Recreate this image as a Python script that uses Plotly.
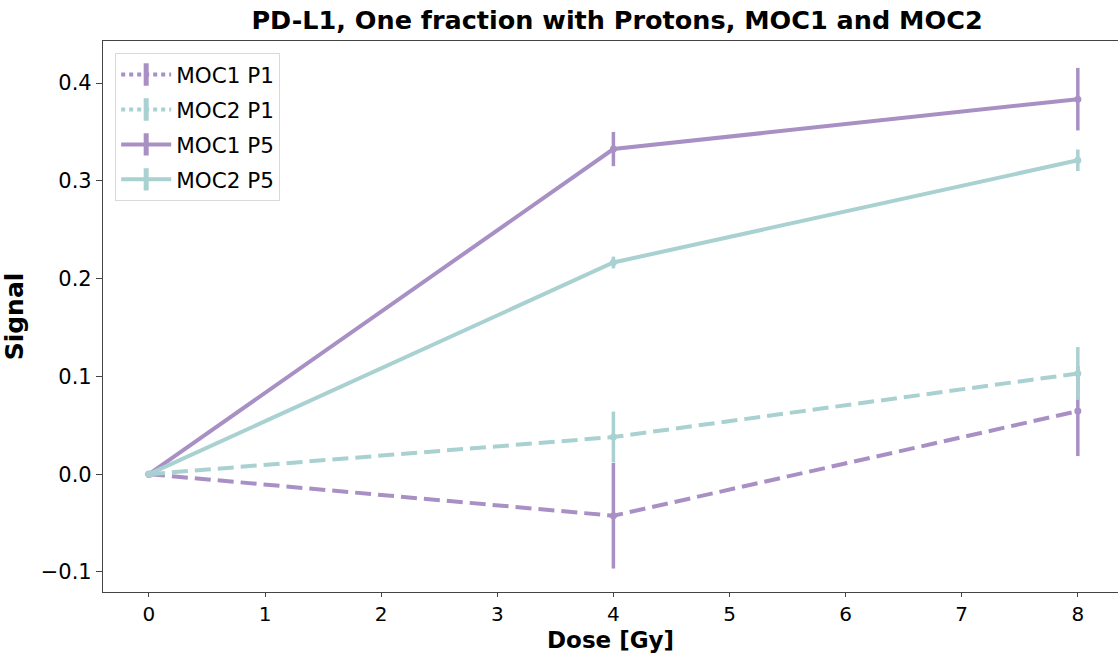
import plotly.graph_objects as go

# Dose levels (Gy)
dose = [0, 4, 8]

# Mean signal and standard error per condition
moc1_p1 = [0.0, -0.0425, 0.0645]
moc1_p1_err = [0.0, 0.054, 0.046]
moc2_p1 = [0.0, 0.038, 0.103]
moc2_p1_err = [0.0, 0.026, 0.027]
moc1_p5 = [0.0, 0.3325, 0.3835]
moc1_p5_err = [0.0, 0.0175, 0.032]
moc2_p5 = [0.0, 0.2165, 0.321]
moc2_p5_err = [0.0, 0.006, 0.011]

series_names = ["MOC1 P1", "MOC2 P1", "MOC1 P5", "MOC2 P5"]
series_vals = [moc1_p1, moc2_p1, moc1_p5, moc2_p5]
series_errs = [moc1_p1_err, moc2_p1_err, moc1_p5_err, moc2_p5_err]

PURPLE = "#a890c5"
TEAL = "#a9d1d1"
colors = [PURPLE, TEAL, PURPLE, TEAL]
dashes = ["16px,7px", "16px,7px", "solid", "solid"]
legend_dashes = ["dot", "dot", "solid", "solid"]

FONT = "DejaVu Sans"

fig = go.Figure()

for name, y, err, c, d in zip(series_names, series_vals, series_errs, colors, dashes):
    fig.add_trace(go.Scatter(
        x=dose, y=y, mode="lines+markers", name=name, showlegend=False,
        line=dict(color=c, width=4, dash=d),
        marker=dict(color=c, size=7),
        error_y=dict(type="data", array=err, visible=True, color=c,
                     thickness=3.5, width=0),
    ))

# Legend entries: line sample with a vertical error-bar glyph
for name, c, d in zip(series_names, colors, legend_dashes):
    fig.add_trace(go.Scatter(
        x=[None], y=[None], mode="lines+markers", name=name,
        legendgroup=name,
        line=dict(color=c, width=4, dash=d),
        marker=dict(symbol="line-ns", size=20, color=c,
                    line=dict(color=c, width=5)),
    ))

PLOT_H = 655 - 41 - 63

fig.update_layout(
    width=1118, height=655,
    margin=dict(l=103, r=0, t=41, b=63),
    paper_bgcolor="white", plot_bgcolor="white",
    font=dict(family=FONT, size=21, color="black"),
    title=dict(text="<b>PD-L1, One fraction with Protons, MOC1 and MOC2</b>",
               x=617 / 1118, xref="container", xanchor="center",
               y=1 - 20 / 655, yanchor="middle",
               font=dict(family=FONT, size=25.5, color="black")),
    legend=dict(x=0.012, y=1 - 12 / PLOT_H, xanchor="left", yanchor="top",
                bgcolor="rgba(255,255,255,0.8)", bordercolor="#d9d9d9",
                borderwidth=1, font=dict(family=FONT, size=21.5),
                itemwidth=50, traceorder="grouped", tracegroupgap=4),
    showlegend=True,
)

# x-axis title placed just below the tick labels
fig.add_annotation(
    text="<b>Dose [Gy]</b>", xref="paper", yref="paper",
    x=0.5, y=-(640 - 592) / PLOT_H, xanchor="center", yanchor="middle",
    showarrow=False, font=dict(family=FONT, size=23, color="black"),
)

fig.update_xaxes(
    range=[-0.396, 8.346], tickmode="array", tickvals=list(range(0, 9)),
    showgrid=False, zeroline=False, showline=True, linecolor="#444",
    linewidth=1.2, mirror=True, ticks="outside", ticklen=4, tickcolor="#444",
    tickfont=dict(family=FONT, size=20),
)
fig.update_yaxes(
    range=[-0.1205, 0.443], tickmode="array",
    tickvals=[-0.1, 0.0, 0.1, 0.2, 0.3, 0.4],
    ticktext=["\u22120.1", "0.0", "0.1", "0.2", "0.3", "0.4"],
    showgrid=False, zeroline=False, showline=True, linecolor="#444",
    linewidth=1.2, ticks="outside", ticklen=6, tickcolor="#444",
    tickfont=dict(family=FONT, size=21),
    title=dict(text="<b>Signal</b>", font=dict(family=FONT, size=25),
               standoff=10),
)

fig.write_html("out.html")
